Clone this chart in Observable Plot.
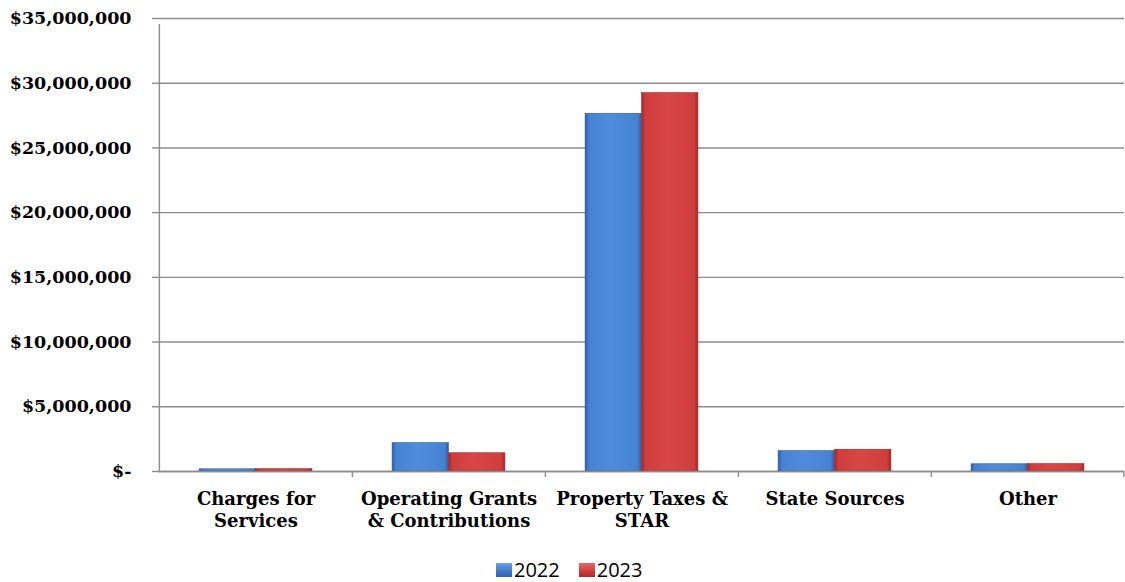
<!DOCTYPE html>
<html>
<head>
<meta charset="utf-8">
<script src="https://cdn.jsdelivr.net/npm/d3@7"></script>
<script src="https://cdn.jsdelivr.net/npm/@observablehq/plot@0.6"></script>
<style>
  html, body { margin: 0; padding: 0; background: #fff; }
  #wrap { position: relative; width: 1125px; height: 582px; overflow: hidden; }
  #legend { position: absolute; left: 496px; top: 556px; display: flex; align-items: center;
    font-family: "Open Sans", "Liberation Sans", sans-serif; font-size: 20px; color: #000; }
  .sw { width: 16px; height: 14px; margin-right: 2px; }
  .item { display: flex; align-items: center; margin-right: 19px; }
</style>
</head>
<body>
<div id="wrap"><div id="chart"></div><div id="legend"></div></div>
<script>
const categories = ["Charges for Services", "Operating Grants & Contributions", "Property Taxes & STAR", "State Sources", "Other"];
const categoryLabels = ["Charges for\nServices", "Operating Grants\n& Contributions", "Property Taxes &\nSTAR", "State Sources", "Other"];
const years = ["2022", "2023"];
const values2022 = [170000, 2190000, 27640000, 1570000, 560000];
const values2023 = [180000, 1410000, 29230000, 1680000, 570000];
const yTicks = [0, 5000000, 10000000, 15000000, 20000000, 25000000, 30000000, 35000000];

const W = 1125, H = 535, mL = 158, mR = 1, mT = 18, mB = 64;
const bw = (W - mL - mR) / categories.length;
const groupFrac = 0.585;
const side = bw * (1 - groupFrac) / 2;
const half = bw / 2;

const rows2022 = categories.map((c, i) => ({category: c, year: years[0], value: values2022[i]}));
const rows2023 = categories.map((c, i) => ({category: c, year: years[1], value: values2023[i]}));
const labelOf = new Map(categories.map((c, i) => [c, categoryLabels[i]]));
const fmt = d3.format(",");
const grid = "#8c8c8c";

const chart = Plot.plot({
  width: W, height: H,
  marginLeft: mL, marginRight: mR, marginTop: mT, marginBottom: mB,
  style: {fontFamily: "'DejaVu Serif', serif", fontWeight: "bold", color: "#000", background: "#fff"},
  x: {domain: categories, padding: 0, axis: null, label: null},
  y: {domain: [0, 35000000], axis: null, label: null},
  marks: [
    Plot.gridY(yTicks, {stroke: grid, strokeOpacity: 1, strokeWidth: 1.4}),
    Plot.axisY(yTicks, {tickSize: 6, tickPadding: 21, stroke: grid, strokeWidth: 1.4, fontSize: 17.5, label: null,
      tickFormat: d => d === 0 ? "$-" : "$" + fmt(d)}),
    Plot.barY(rows2022, {x: "category", y: "value", fill: "url(#gBlue)", stroke: "#2c5a9c", strokeWidth: 0.6,
      insetLeft: side, insetRight: half}),
    Plot.barY(rows2023, {x: "category", y: "value", fill: "url(#gRed)", stroke: "#9a2626", strokeWidth: 0.6,
      insetLeft: half, insetRight: side}),
    Plot.ruleX([categories[0]], {dx: -half, y1: 0, y2: 35000000, insetBottom: -6, stroke: grid, strokeWidth: 1.4}),
    Plot.ruleX(categories.slice(1), {dx: -half, y1: 0, y2: 0, insetBottom: -6, stroke: grid, strokeWidth: 1.4}),
    Plot.ruleX([categories[categories.length - 1]], {dx: half - 0.7, y1: 0, y2: 0, insetBottom: -6, stroke: grid, strokeWidth: 1.4}),
    Plot.ruleY([0], {stroke: grid, strokeWidth: 1.4}),
    Plot.axisX(categories, {tickSize: 0, tickPadding: 18, fontSize: 18, lineHeight: 1.22, label: null,
      tickFormat: d => labelOf.get(d)})
  ]
});

const svg = d3.select(chart);
const defs = svg.insert("defs", ":first-child");
function grad(id, edge, mid, light) {
  const g = defs.append("linearGradient").attr("id", id).attr("x1", "0").attr("x2", "1").attr("y1", "0").attr("y2", "0");
  [[0, edge], [0.07, mid], [0.45, light], [0.93, mid], [1, edge]].forEach(([o, c]) =>
    g.append("stop").attr("offset", o).attr("stop-color", c));
}
grad("gBlue", "#2d5fa8", "#4682d2", "#4f8ddc");
grad("gRed", "#a52828", "#d03d3d", "#d94646");
document.getElementById("chart").appendChild(chart);

const legend = document.getElementById("legend");
const swatchBg = {"2022": "linear-gradient(#6a9fe6, #3f78c8 60%, #2f62ad)", "2023": "linear-gradient(#e46a6a, #cf3b3b 60%, #a82b2b)"};
years.forEach(y => {
  const item = document.createElement("div");
  item.className = "item";
  const sw = document.createElement("div");
  sw.className = "sw";
  sw.style.background = swatchBg[y];
  const t = document.createElement("span");
  t.textContent = y;
  item.appendChild(sw); item.appendChild(t);
  legend.appendChild(item);
});
</script>
</body>
</html>
